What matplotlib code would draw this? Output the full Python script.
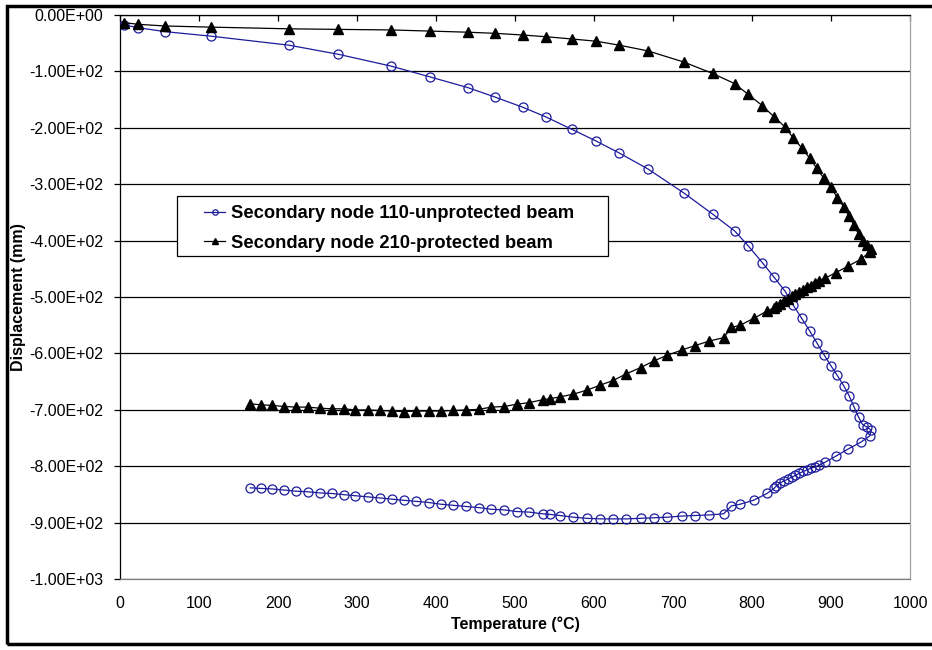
import matplotlib.pyplot as plt
from matplotlib.patches import Rectangle
from matplotlib.ticker import FuncFormatter

plt.rcParams['font.family'] = ['Liberation Sans', 'DejaVu Sans']

# ====== DATA ======
# temperatures shared by both nodes: heating up to ~950 C, then cooling back
temp_c = [5, 23, 57, 115, 214, 276, 343, 392, 440, 475,
          510, 539, 572, 603, 632, 668, 714, 750, 778, 795,
          813, 828, 842, 852, 863, 873, 882, 891, 900, 908,
          916, 923, 929, 935, 940, 945, 951, 949,
          938, 922, 906,
          892, 885, 880, 875, 870, 865, 860, 855, 850, 845, 840, 835, 831, 828,
          819, 802, 785, 774, 764, 746, 728, 711, 693, 676,
          659, 641, 624, 608, 591, 574, 557, 544, 535, 518,
          502, 486, 470, 454, 438, 422, 406, 391, 375, 359,
          344, 329, 314, 298, 283, 268, 253, 238, 223, 208,
          193, 178, 165]

node110_unprotected = [-18, -23, -30, -38, -54, -70, -91, -110, -129, -146,
                       -164, -181, -203, -224, -245, -273, -316, -353, -383, -409,
                       -439, -465, -490, -514, -538, -560, -581, -602, -622, -639,
                       -657, -675, -694, -713, -726, -730, -736, -746,
                       -757, -769, -782,
                       -793, -798, -801, -803, -806, -809, -812, -816, -819, -823, -826, -830, -834, -839,
                       -848, -860, -867, -870, -884, -886, -887, -888, -890, -891,
                       -892, -893, -893, -893, -892, -890, -887, -885, -884, -881,
                       -880, -877, -876, -873, -871, -869, -867, -864, -862, -860,
                       -858, -856, -854, -852, -850, -848, -847, -845, -844, -842,
                       -840, -839, -838]

node210_protected = [-14, -17, -20, -22, -25, -26, -27, -29, -31, -33,
                     -36, -39, -43, -47, -54, -64, -84, -104, -122, -141,
                     -161, -181, -199, -218, -236, -254, -272, -290, -306, -324,
                     -340, -357, -373, -389, -401, -408, -415, -420,
                     -433, -445, -457,
                     -467, -471, -476, -480, -483, -487, -491, -495, -499, -503, -507, -512, -516, -519,
                     -525, -538, -550, -554, -572, -578, -586, -594, -603, -613,
                     -625, -636, -648, -656, -665, -672, -677, -680, -682, -687,
                     -690, -694, -695, -699, -700, -701, -702, -702, -702, -703,
                     -702, -701, -700, -700, -698, -698, -697, -695, -695, -694,
                     -692, -691, -689]

labels = ["Secondary node 110-unprotected beam", "Secondary node 210-protected beam"]
x_ticks = list(range(0, 1001, 100))
y_ticks = list(range(0, -1001, -100))

# ====== PLOT ======
fig = plt.figure(figsize=(9.32, 6.5), dpi=100)
ax = fig.add_axes([120/932, 1 - 579.3/650, 790/932, 564.6/650])

ax.plot(temp_c, node110_unprotected, color='#1c1c9c', lw=0.9, marker='o',
        ms=6.5, mfc='none', mec='#1c1c9c', mew=0.9, label=labels[0], zorder=3)
ax.plot(temp_c, node210_protected, color='black', lw=0.9, marker='^',
        ms=6.8, mfc='black', mec='black', label=labels[1], zorder=4)

ax.set_xlim(0, 1000)
ax.set_ylim(-1000, 0)
ax.set_xticks(x_ticks)
ax.set_yticks(y_ticks)
ax.yaxis.set_major_formatter(FuncFormatter(lambda v, p: f"{v + 0.0:.2E}"))

# horizontal gridlines like Excel
ax.grid(axis='y', color='black', lw=0.9, zorder=1)
ax.set_axisbelow(True)

# x axis line sits at y=0 (top), labels stay at bottom
ax.tick_params(axis='x', which='both', top=True, bottom=False, labeltop=False,
               labelbottom=True, direction='in', length=4, width=0.9, color='black',
               labelsize=11.5, pad=12)
ax.tick_params(axis='y', direction='out', length=4, width=0.9, color='black',
               labelsize=11.5, pad=8)
ax.spines['left'].set_color('black')
ax.spines['top'].set_color('black')
ax.spines['right'].set_color('#a0a0a0')
ax.spines['bottom'].set_color('#808080')
for s in ax.spines.values():
    s.set_linewidth(0.9)

ax.set_xlabel("Temperature (°C)", fontsize=11.5, fontweight='bold')
ax.set_ylabel("Displacement (mm)", fontsize=11.5, fontweight='bold')
ax.xaxis.set_label_coords(0.5, -0.08)
ax.yaxis.set_label_coords(-0.129, 0.5)
ax.xaxis.label.set_va('center')
ax.yaxis.label.set_va('center')

# legend box drawn by hand (Excel leaves a wide left margin)
ax.add_patch(Rectangle((0.0725, 0.5731), 0.6181 - 0.0725, 0.6794 - 0.5731,
                       transform=ax.transAxes, facecolor='white', edgecolor='black',
                       lw=0.9, zorder=2))
leg = ax.legend(loc='upper left', bbox_to_anchor=(0.1063, 0.6622), borderaxespad=0,
                prop={'weight': 'bold', 'size': 13.2}, frameon=False,
                handlelength=1.15, handletextpad=0.3, labelspacing=0.66,
                borderpad=0, markerscale=0.6)
leg.set_zorder(5)

# outer chart frame (right side runs off the picture)
fig.patches.append(Rectangle((7/932, 6/650), 1.02, 638/650, transform=fig.transFigure,
                             fill=False, edgecolor='black', lw=2.5))

fig.savefig("out.png", dpi=100)
